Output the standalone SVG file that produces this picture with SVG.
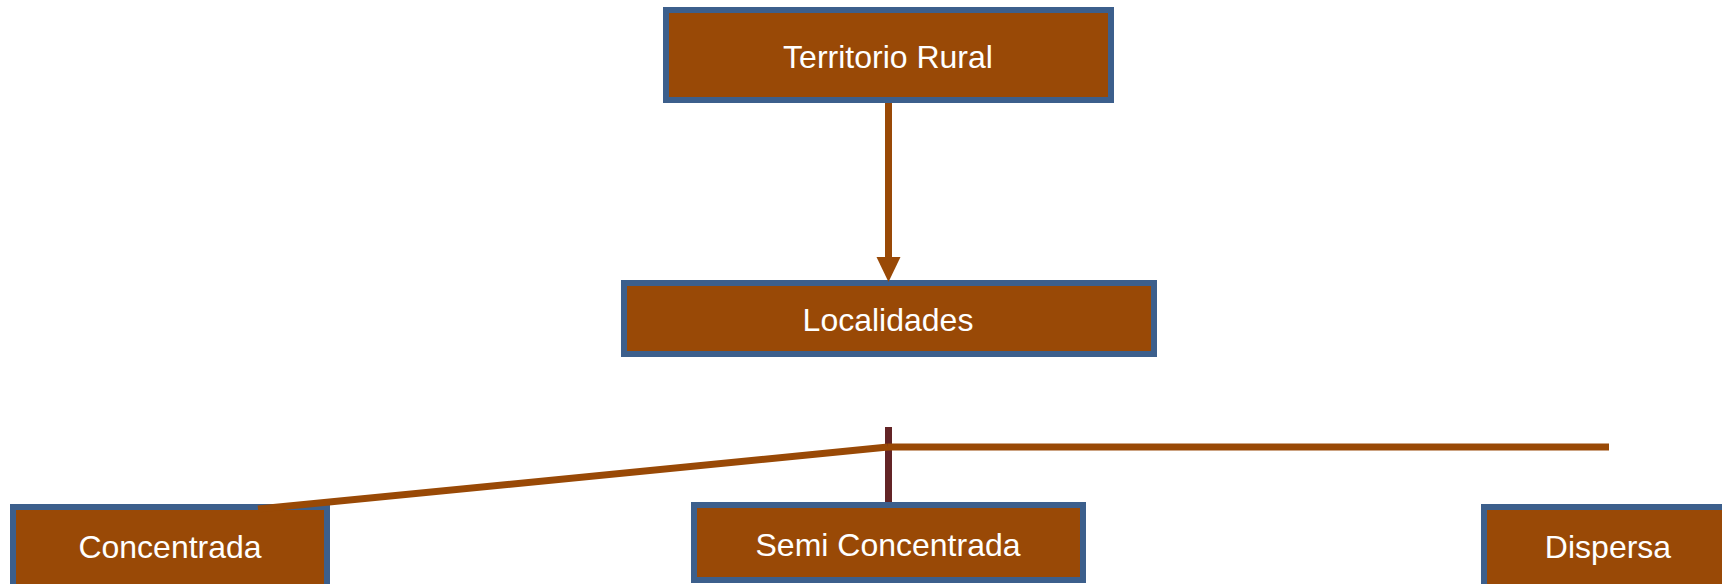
<svg xmlns="http://www.w3.org/2000/svg" width="1722" height="584" viewBox="0 0 1722 584">
<style>
.box{fill:#994906;stroke:#3c5f8c;stroke-width:6}
.lbl{font-family:"Liberation Sans",Arial,sans-serif;font-size:32px;fill:#ffffff;text-anchor:middle}
.con{stroke:#994906;stroke-width:7;fill:none}
</style>
<rect width="1722" height="584" fill="#ffffff"/>
<g id="territorio-rural">
<rect class="box" x="666" y="10" width="445" height="90"/>
<text class="lbl" x="888" y="68">Territorio Rural</text>
</g>
<g id="localidades">
<rect class="box" x="624" y="283" width="530" height="71"/>
<text class="lbl" x="888" y="331">Localidades</text>
</g>
<g id="concentrada">
<rect class="box" x="13" y="507" width="314" height="90"/>
<text class="lbl" x="170" y="558">Concentrada</text>
</g>
<g id="semi-concentrada">
<rect class="box" x="694" y="505" width="389" height="75"/>
<text class="lbl" x="888" y="556">Semi Concentrada</text>
</g>
<g id="dispersa">
<rect class="box" x="1484" y="507" width="260" height="90"/>
<text class="lbl" x="1608" y="558">Dispersa</text>
</g>
<g id="connectors">
<line x1="888.5" y1="103" x2="888.5" y2="258" stroke="#994906" stroke-width="7"/>
<path d="M876.5,257 L900.5,257 L888.5,282 Z" fill="#994906"/>
<line x1="888.5" y1="427" x2="888.5" y2="502" stroke="#632426" stroke-width="7"/>
<line class="con" x1="888" y1="447" x2="1609" y2="447"/>
<line class="con" x1="888" y1="447" x2="258" y2="509"/>
</g>
</svg>
